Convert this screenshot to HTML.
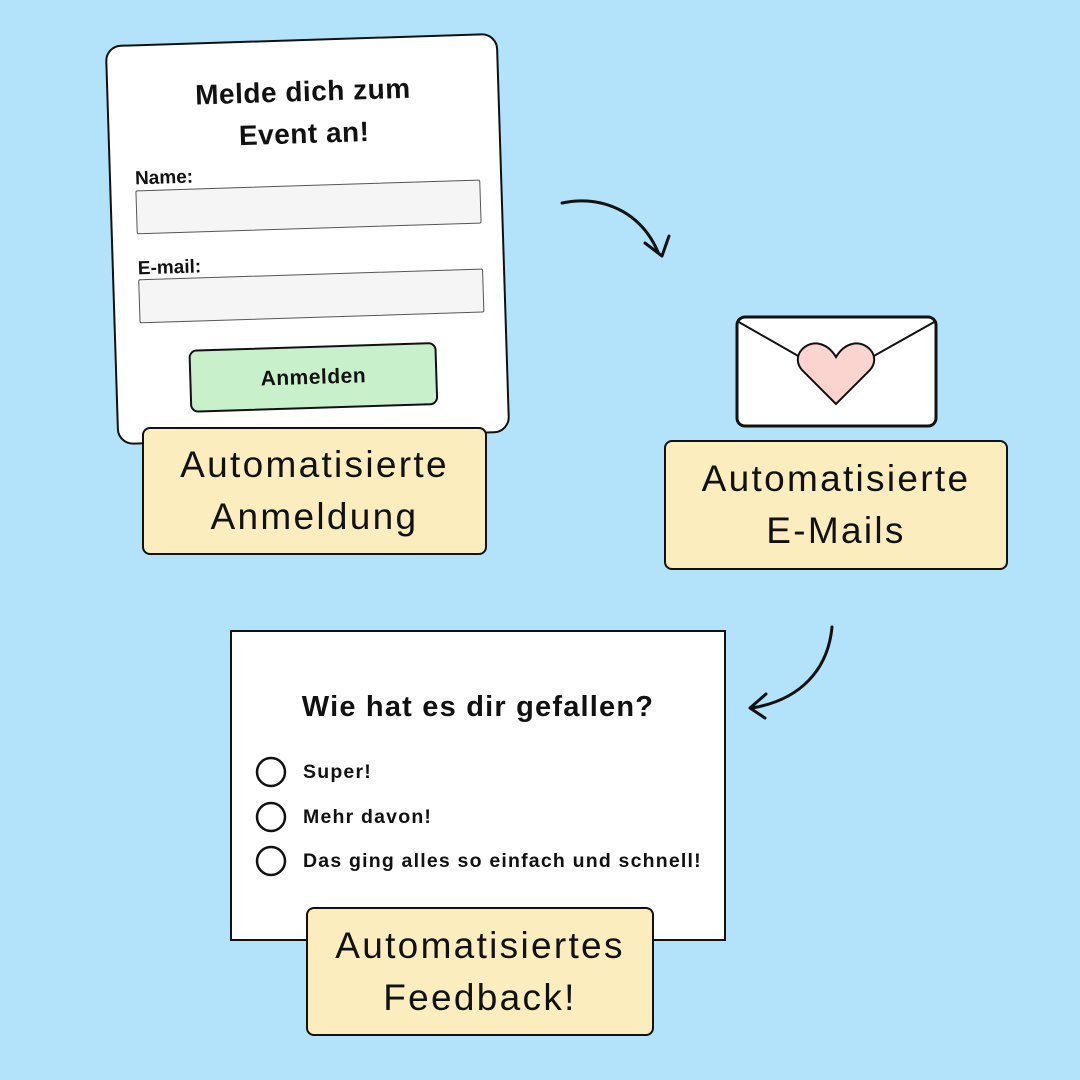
<!DOCTYPE html>
<html><head><meta charset="utf-8"><style>
body{margin:0;width:1080px;height:1080px;background:#b3e2fb;position:relative;overflow:hidden;font-family:"Liberation Sans",sans-serif;color:#111}
.abs{position:absolute;box-sizing:border-box}
.lab{background:#fbedbd;border:2px solid #111;border-radius:8px;text-align:center;font-size:37px;line-height:52px;letter-spacing:2.3px;display:flex;align-items:center;justify-content:center}
.inp{position:absolute;background:#f5f5f5;border:1px solid #555;border-radius:2px}
.opt{font-weight:bold;font-size:19.5px;letter-spacing:1.2px}
</style></head><body>
<div class="abs" style="left:111px;top:39px;width:393px;height:400px;background:#fff;border:2px solid #111;border-radius:16px;transform:rotate(-1.8deg)">
  <div style="position:absolute;left:0;right:0;top:30px;text-align:center;font-weight:bold;font-size:28px;line-height:42px;letter-spacing:0.5px">Melde dich zum<br>Event an!</div>
  <div style="position:absolute;left:24px;top:122px;font-weight:bold;font-size:19px">Name:</div>
  <div class="inp" style="left:24px;top:144px;width:343px;height:42px"></div>
  <div style="position:absolute;left:24px;top:212px;font-weight:bold;font-size:19px">E-mail:</div>
  <div class="inp" style="left:24px;top:233px;width:343px;height:42px"></div>
  <div style="position:absolute;left:72px;top:305px;width:248px;height:63px;background:#c8f1cb;border:2px solid #111;border-radius:8px;box-sizing:border-box;text-align:center;line-height:59px;font-weight:bold;font-size:21px;letter-spacing:0.5px">Anmelden</div>
</div>
<div class="abs lab" style="left:142px;top:427px;width:345px;height:128px">Automatisierte<br>Anmeldung</div>
<svg class="abs" style="left:0;top:0" width="1080" height="1080">
  <path d="M562 203 C600 195 640 210 658 252" fill="none" stroke="#111" stroke-width="3" stroke-linecap="round"/>
  <path d="M645 243 L662 256 L669 236" fill="none" stroke="#111" stroke-width="3" stroke-linecap="round" stroke-linejoin="round"/>
  <path d="M832 627 C828 670 800 700 752 708" fill="none" stroke="#111" stroke-width="3" stroke-linecap="round"/>
  <path d="M766 694 L750 708 L765 718" fill="none" stroke="#111" stroke-width="3" stroke-linecap="round" stroke-linejoin="round"/>
  <rect x="737" y="317" width="199" height="109" rx="8" fill="#fff" stroke="#111" stroke-width="3"/>
  <path d="M737 321 L800 357 M936 321 L872 357" stroke="#111" stroke-width="2"/>
  <path d="M836 404 L802 370 C790 356 806 340 820 344 C828 346 833 352 836 357 C839 352 844 346 852 344 C866 340 882 356 870 370 Z" fill="#fbd3cf" stroke="#111" stroke-width="2"/>
  <rect x="231" y="631" width="494" height="309" fill="#fff" stroke="#111" stroke-width="2"/>
  <circle cx="271" cy="772" r="14" fill="#fff" stroke="#111" stroke-width="2.5"/>
  <circle cx="271" cy="817" r="14" fill="#fff" stroke="#111" stroke-width="2.5"/>
  <circle cx="271" cy="861" r="14" fill="#fff" stroke="#111" stroke-width="2.5"/>
</svg>
<div class="abs lab" style="left:664px;top:440px;width:344px;height:130px">Automatisierte<br>E-Mails</div>
<div class="abs" style="left:231px;top:691px;width:494px;text-align:center;font-weight:bold;font-size:29px;letter-spacing:1.2px">Wie hat es dir gefallen?</div>
<div class="abs opt" style="left:303px;top:761px">Super!</div>
<div class="abs opt" style="left:303px;top:806px">Mehr davon!</div>
<div class="abs opt" style="left:303px;top:850px">Das ging alles so einfach und schnell!</div>
<div class="abs lab" style="left:306px;top:907px;width:348px;height:129px">Automatisiertes<br>Feedback!</div>
</body></html>
